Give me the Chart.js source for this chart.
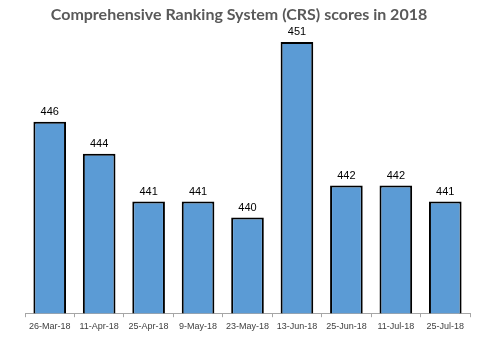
<!DOCTYPE html>
<html>
<head>
<meta charset="utf-8">
<script src="https://cdn.jsdelivr.net/npm/chart.js@4"></script>
<style>
  html, body { margin: 0; padding: 0; background: #fff; }
  #wrap { width: 482px; height: 344px; position: relative; }
</style>
</head>
<body>
<div id="wrap"><canvas id="crsChart"></canvas></div>
<script>
// Draw dates and CRS cut-off scores
const chartTitle = 'Comprehensive Ranking System (CRS) scores in 2018';
const drawDates = ['26-Mar-18', '11-Apr-18', '25-Apr-18', '9-May-18', '23-May-18', '13-Jun-18', '25-Jun-18', '11-Jul-18', '25-Jul-18'];
const crsScores = [446, 444, 441, 441, 440, 451, 442, 442, 441];

// Value labels above each bar, plus the title centred on the whole canvas
const valueLabels = {
    id: 'valueLabels',
    afterDatasetsDraw(chart) {
        const ctx = chart.ctx;
        const meta = chart.getDatasetMeta(0);
        ctx.save();
        ctx.font = '11px "Liberation Sans", Arial, sans-serif';
        ctx.fillStyle = '#000';
        ctx.textAlign = 'center';
        ctx.textBaseline = 'bottom';
        meta.data.forEach((bar, i) => {
            ctx.fillText(crsScores[i], bar.x, bar.y - 4);
        });

        ctx.font = 'bold 16px Lato, sans-serif';
        ctx.fillStyle = '#595959';
        ctx.textBaseline = 'middle';
        ctx.fillText(chartTitle, 239, 15);
        ctx.restore();
    }
};

const ctx = document.getElementById('crsChart').getContext('2d');
new Chart(ctx, {
    type: 'bar',
    data: {
        labels: drawDates,
        datasets: [{
            data: crsScores,
            backgroundColor: '#5b9bd5',
            borderColor: '#000',
            borderWidth: 2,
            barPercentage: 0.66,
            categoryPercentage: 1
        }]
    },
    options: {
        responsive: true,
        maintainAspectRatio: false,
        animation: false,
        layout: { padding: { left: 25, right: 12, top: 26, bottom: 8 } },
        scales: {
            x: {
                offset: true,
                grid: {
                    offset: true,
                    drawOnChartArea: false,
                    color: '#a6a6a6',
                    tickLength: 4
                },
                border: { color: '#a6a6a6' },
                ticks: {
                    color: '#404040',
                    font: { size: 9, family: '"Liberation Sans", Arial, sans-serif' },
                    maxRotation: 0,
                    autoSkip: false,
                    padding: 4
                }
            },
            y: {
                display: false,
                min: 434,
                max: 452
            }
        },
        plugins: {
            legend: { display: false },
            tooltip: { enabled: false },
            title: { display: false }
        }
    },
    plugins: [valueLabels]
});
</script>
</body>
</html>
